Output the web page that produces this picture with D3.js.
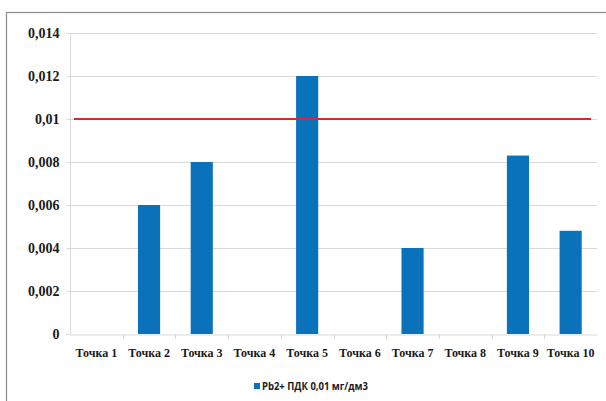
<!DOCTYPE html>
<html><head><meta charset="utf-8">
<script src="https://cdn.jsdelivr.net/npm/d3@7"></script>
<style>body{margin:0;background:#fff}svg{display:block}</style>
</head><body>
<svg id="c" width="606" height="401"></svg>
<script>
const categories = ["Точка 1","Точка 2","Точка 3","Точка 4","Точка 5","Точка 6","Точка 7","Точка 8","Точка 9","Точка 10"];
const values = [0, 0.006, 0.008, 0, 0.012, 0, 0.004, 0, 0.0083, 0.0048];
const yTicks = [0, 0.002, 0.004, 0.006, 0.008, 0.01, 0.012, 0.014];
const yTickLabels = ["0","0,002","0,004","0,006","0,008","0,01","0,012","0,014"];
const limitValue = 0.01;
const seriesName = "Pb2+ ПДК 0,01 мг/дм3";

const svg = d3.select("#c");
const L = 70, R = 597, T = 33, B = 334;
const x = d3.scaleBand().domain(categories).range([L, R]).paddingInner(0.58).paddingOuter(0.29);
const xc = d3.scaleBand().domain(categories).range([L, R]);
const y = d3.scaleLinear().domain([0, 0.014]).range([B, T]);

// frame
svg.append("rect").attr("x",6.5).attr("y",12.5).attr("width",640).attr("height",420)
  .attr("fill","none").attr("stroke","#8c8c8c").attr("stroke-width",1.2);

// gridlines
svg.append("g").selectAll("line").data(yTicks.slice(1)).join("line")
  .attr("x1",L).attr("x2",R).attr("y1",d=>Math.round(y(d))+0.5).attr("y2",d=>Math.round(y(d))+0.5)
  .attr("stroke","#d9d9d9").attr("stroke-width",1.2);

// y axis
const ya = svg.append("g").attr("transform",`translate(${L+0.5},0)`)
  .call(d3.axisLeft(y).tickValues(yTicks).tickSize(4).tickFormat((d,i)=>yTickLabels[i]));
ya.attr("font-family",null).attr("font-size",null);
ya.select(".domain").attr("stroke","#d9d9d9").attr("d",`M-4,${B+0.5}H0V${T}`);
ya.selectAll(".tick line").attr("stroke","#d9d9d9");
ya.selectAll(".tick text").attr("x",-11).attr("dy","0.35em")
  .style("font-family","'Liberation Serif', 'Times New Roman', serif").style("font-weight","bold")
  .style("font-size","14px").attr("fill","#1a1a1a");

// x axis
const xa = svg.append("g").attr("transform",`translate(0,${B+0.5})`)
  .call(d3.axisBottom(xc).tickSize(0));
xa.attr("font-family",null).attr("font-size",null);
xa.select(".domain").attr("stroke","#d9d9d9").attr("stroke-width",1.2);
xa.selectAll(".tick text").attr("y",14)
  .style("font-family","'Liberation Serif', 'Times New Roman', serif").style("font-weight","bold")
  .style("font-size","12px").attr("fill","#1a1a1a");
svg.append("g").selectAll("line").data(categories.slice(1)).join("line")
  .attr("x1",d=>Math.round(xc(d))+0.5).attr("x2",d=>Math.round(xc(d))+0.5)
  .attr("y1",B).attr("y2",B+5).attr("stroke","#d9d9d9");

// bars
svg.append("g").selectAll("rect").data(values).join("rect")
  .attr("x",(d,i)=>x(categories[i])).attr("width",x.bandwidth())
  .attr("y",d=>y(d)).attr("height",d=>B-y(d)).attr("fill","#0a72bb");

// limit line
svg.append("line").attr("x1",74).attr("x2",591)
  .attr("y1",y(limitValue)).attr("y2",y(limitValue))
  .attr("stroke","#d42a2f").attr("stroke-width",2);

// legend
const lg = svg.append("g").attr("transform","translate(254,386)");
lg.append("rect").attr("x",0).attr("y",-3).attr("width",6).attr("height",6).attr("fill","#0a72bb");
lg.append("text").attr("x",8).attr("y",0).attr("dy","0.35em").text(seriesName)
  .attr("textLength",106).attr("lengthAdjust","spacingAndGlyphs")
  .style("font-family","'Open Sans', 'Liberation Sans', sans-serif").style("font-weight","700")
  .style("font-size","11px").attr("fill","#1a1a1a");
</script>
</body></html>
